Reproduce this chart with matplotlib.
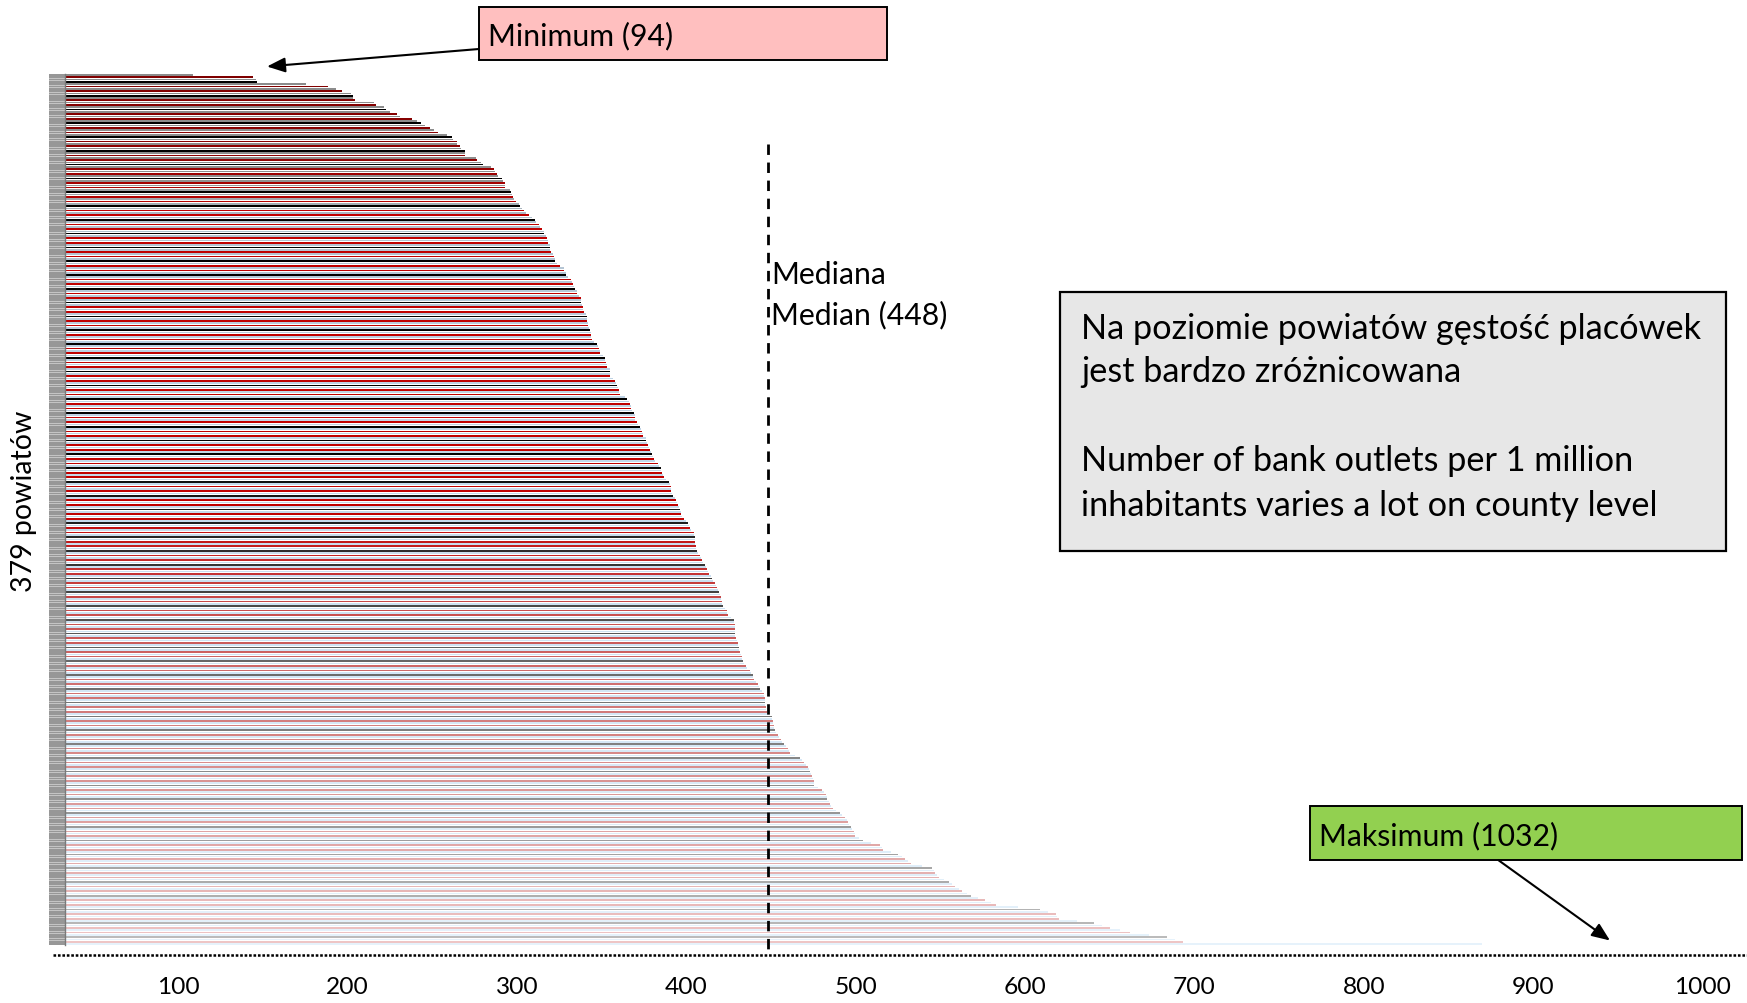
import matplotlib
matplotlib.use("Agg")
import matplotlib.pyplot as plt
import matplotlib.colors as mcolors
from matplotlib.patches import Rectangle, FancyArrowPatch
import numpy as np

# ---------------- data ----------------
values = [
    108.5, 144.2, 146.0, 146.5, 175.5, 188.3, 193.0, 196.8, 202.0, 203.3,
    203.3, 204.3, 215.7, 216.9, 221.6, 222.8, 225.2, 229.3, 231.0, 238.2,
    241.2, 243.5, 245.9, 248.8, 251.2, 253.6, 258.9, 261.9, 262.4, 264.8,
    264.8, 266.6, 267.2, 269.0, 269.5, 269.5, 276.0, 276.6, 279.0, 280.2,
    284.9, 286.7, 287.3, 287.9, 289.0, 291.4, 292.0, 293.2, 293.2, 293.2,
    295.6, 296.5, 297.0, 297.5, 298.0, 299.5, 301.0, 302.0, 303.0, 304.0,
    305.5, 307.0, 309.0, 310.9, 311.5, 313.1, 313.8, 315.0, 316.2, 316.2,
    317.0, 318.0, 318.2, 318.6, 319.2, 319.2, 319.4, 319.8, 321.5, 322.1,
    322.3, 322.7, 323.9, 325.1, 327.5, 328.0, 328.8, 329.2, 330.4, 331.6,
    332.2, 332.8, 333.4, 334.0, 335.7, 335.7, 336.9, 337.5, 337.5, 337.5,
    338.1, 338.7, 338.9, 339.3, 340.5, 341.1, 341.1, 341.6, 342.2, 342.2,
    342.8, 343.4, 343.6, 343.6, 343.8, 344.0, 345.4, 347.0, 347.6, 348.7,
    349.3, 349.3, 350.5, 351.7, 352.1, 352.3, 352.9, 352.9, 354.7, 354.7,
    355.2, 355.2, 356.4, 357.6, 358.2, 358.8, 359.4, 360.0, 360.4, 360.6,
    363.5, 364.7, 365.9, 366.5, 367.1, 367.1, 368.1, 368.8, 369.4, 369.4,
    369.4, 370.6, 371.4, 372.4, 373.0, 373.6, 374.2, 374.2, 376.0, 376.0,
    377.0, 377.2, 377.8, 378.4, 379.0, 379.6, 380.5, 380.7, 381.3, 383.1,
    384.1, 384.9, 385.3, 385.5, 386.1, 386.7, 387.8, 389.6, 390.2, 390.8,
    390.8, 390.8, 391.4, 392.0, 393.2, 393.8, 394.3, 394.9, 395.5, 396.1,
    396.7, 396.7, 397.3, 398.5, 399.7, 400.8, 401.6, 402.0, 403.0, 404.4,
    404.6, 405.0, 405.0, 405.0, 405.4, 405.6, 405.8, 406.2, 407.0, 408.0,
    408.5, 409.1, 410.1, 410.9, 411.5, 412.1, 412.7, 413.3, 414.5, 415.0,
    415.8, 416.8, 417.4, 418.0, 418.6, 419.2, 419.8, 420.4, 420.6, 421.0,
    421.2, 421.5, 422.7, 423.9, 424.1, 424.5, 426.3, 428.1, 428.3, 428.6,
    428.6, 428.6, 428.6, 428.6, 429.0, 429.2, 429.8, 430.4, 430.6, 431.0,
    431.2, 431.6, 432.2, 432.8, 433.0, 433.4, 434.2, 435.1, 436.1, 437.5,
    438.1, 439.3, 439.4, 439.9, 441.0, 442.2, 442.8, 443.4, 444.5, 445.8,
    446.1, 446.4, 446.4, 446.4, 446.7, 447.0, 447.2, 447.4, 449.0, 450.5,
    450.8, 451.1, 451.4, 451.7, 452.0, 452.3, 453.2, 454.1, 455.0, 455.8,
    456.7, 457.6, 458.8, 460.0, 460.6, 461.2, 464.0, 467.1, 468.2, 469.4,
    470.6, 471.8, 472.4, 473.0, 473.6, 474.2, 474.8, 475.4, 475.4, 475.4,
    477.8, 480.1, 481.3, 482.5, 482.8, 483.1, 484.0, 484.8, 485.7, 486.6,
    488.6, 490.7, 492.2, 493.7, 494.6, 495.5, 496.3, 497.2, 498.1, 499.0,
    499.3, 499.6, 502.0, 504.3, 509.3, 514.4, 515.3, 516.2, 520.6, 525.0,
    527.1, 529.2, 531.0, 532.7, 538.9, 545.1, 546.0, 546.9, 548.1, 549.3,
    552.2, 555.2, 557.0, 558.7, 560.8, 562.9, 565.5, 568.2, 572.3, 576.5,
    579.7, 583.0, 596.0, 609.0, 613.5, 618.0, 619.0, 620.0, 630.5, 641.0,
    645.5, 650.0, 656.0, 662.0, 673.0, 684.0, 688.5, 693.0, 870.0,
]
MEDIAN = 448
x_ticks = [100, 200, 300, 400, 500, 600, 700, 800, 900, 1000]
min_label = "Minimum (94)"
max_label = "Maksimum (1032)"
median_lines = ["Mediana", "Median (448)"]
box_lines = ["Na poziomie powiatów gęstość placówek",
             "jest bardzo zróżnicowana",
             "Number of bank outlets per 1 million",
             "inhabitants varies a lot on county level"]
y_label = "379 powiatów"

# ---------------- style ----------------
plt.rcParams['font.family'] = ['Lato', 'DejaVu Sans']
plt.rcParams['lines.scale_dashes'] = False
W, H, DPI = 1747, 1004, 100
fig = plt.figure(figsize=(W / DPI, H / DPI), dpi=DPI)
fig.patch.set_facecolor('white')

def fxp(px):
    return px / W

def fyp(py):
    return 1 - py / H

n = len(values)
AX_L, AX_R, AX_T, AX_B = 65, 1747, 74.85, 946.15
ax = fig.add_axes([fxp(AX_L), fyp(AX_B), (AX_R - AX_L) / W, (AX_B - AX_T) / H])
ax.set_xlim(33.1, 1026.3)
ax.set_ylim(n - 0.5, -0.5)
for s in ax.spines.values():
    s.set_visible(False)
ax.set_yticks([])
ax.patch.set_alpha(0)

def grad(idx, hexes, i):
    rgb = np.array([mcolors.to_rgb(c) for c in hexes])
    return tuple(float(np.interp(i, idx, rgb[:, k])) for k in range(3))

dark_idx = [0, 160, 195, 220, 255, 300, 378]
dark_col = ['#000000', '#000000', '#1e1e1e', '#3c3c3c', '#666666', '#888888', '#bdbdbd']
red_idx = [0, 35, 60, 190, 225, 265, 320, 378]
red_col = ['#7f0000', '#8b0000', '#c00000', '#c00000', '#c64444', '#cf7070', '#dc9e9e', '#eec6c6']
light_idx = [0, 45, 62, 120, 250, 378]
light_col = ['#8c8c8c', '#8e8e8e', '#b0bfcc', '#bcd0e2', '#d0e4f4', '#e6f2fb']

colors = []
for i in range(n):
    m = i % 6
    if m in (1, 5):
        colors.append(grad(red_idx, red_col, i))
    elif m == 3:
        colors.append(grad(dark_idx, dark_col, i))
    else:
        colors.append(grad(light_idx, light_col, i))

ax.barh(np.arange(n), values, height=0.72, color=colors, linewidth=0)

# median dashed line
ax.plot([MEDIAN, MEDIAN], [30, 381.3], color='black', lw=2.0,
        dashes=(7.5, 5.5), clip_on=False, solid_capstyle='butt')

# dotted baseline
ax.plot([26, 1026.3], [382.6, 382.6], color='black', lw=1.8,
        dashes=(1.9, 1.3), clip_on=False)

# left strip
ax_s = fig.add_axes([fxp(49.3), fyp(AX_B), (64.5 - 49.3) / W, (AX_B - AX_T) / H])
ax_s.set_facecolor('#c4c4c4')
ax_s.barh(np.arange(n), 1, height=0.74, color='#979797', linewidth=0)
ax_s.set_xlim(0, 1)
ax_s.set_ylim(n - 0.5, -0.5)
ax_s.set_xticks([])
ax_s.set_yticks([])
for k, s in ax_s.spines.items():
    s.set_visible(k == 'right')
ax_s.spines['right'].set_color('#7a7a7a')
ax_s.spines['right'].set_linewidth(1.0)

# x ticks
ax.set_xticks(x_ticks)
ax.set_xticklabels([str(v) for v in x_ticks])
ax.tick_params(axis='x', length=0, pad=20, labelsize=15, colors='black')

# ---------------- annotations ----------------
def rect(x0, y0, x1, y1, fc, lw=1.4):
    r = Rectangle((fxp(x0), fyp(y1)), (x1 - x0) / W, (y1 - y0) / H,
                  transform=fig.transFigure, facecolor=fc, edgecolor='black',
                  linewidth=lw, zorder=5)
    fig.add_artist(r)

def arrow(x0, y0, x1, y1):
    a = FancyArrowPatch((fxp(x0), fyp(y0)), (fxp(x1), fyp(y1)),
                        transform=fig.transFigure,
                        arrowstyle='-|>,head_length=1.1,head_width=0.45',
                        mutation_scale=10, color='black', lw=1.5, zorder=6,
                        shrinkA=0, shrinkB=0)
    fig.add_artist(a)

rect(479, 7.8, 887, 61.3, '#ffbfbf')
arrow(479, 50, 267, 67.5)
t_min = fig.text(fxp(488), fyp(35.7), min_label, ha='left', va='center', fontsize=18, zorder=7)

rect(1310.3, 806.7, 1741.5, 861.3, '#92d050')
arrow(1498.6, 861.3, 1610, 941.5)
t_max = fig.text(fxp(1319), fyp(835.7), max_label, ha='left', va='center', fontsize=18, zorder=7)

t_med1 = fig.text(fxp(771), fyp(275), median_lines[0], ha='left', va='center', fontsize=18)
t_med2 = fig.text(fxp(771), fyp(315), median_lines[1], ha='left', va='center', fontsize=18)

rect(1059.6, 293, 1725.9, 551.5, '#e7e7e7', lw=1.6)
box_y = [328.7, 372.1, 461.3, 505.8]
t_box = [fig.text(fxp(1081), fyp(yy), s, ha='left', va='center', fontsize=26, zorder=7)
         for s, yy in zip(box_lines, box_y)]

t_yl = fig.text(fxp(24.5), fyp(501), y_label, rotation=90, ha='center', va='center', fontsize=18)

# ---------------- fit text sizes to the reference widths ----------------
fig.canvas.draw()
rend = fig.canvas.get_renderer()

def fit(t, target, use_height=False):
    bb = t.get_window_extent(rend)
    cur = bb.height if use_height else bb.width
    return t.get_fontsize() * target / cur

s_lab = fit(t_min, 184)
for t in (t_min, t_max, t_med1, t_med2):
    t.set_fontsize(s_lab)
s_box = fit(t_box[0], 620)
for t in t_box:
    t.set_fontsize(s_box)
t_yl.set_fontsize(fit(t_yl, 181, use_height=True))

tmp = fig.text(0.5, 0.5, "1000", fontsize=15)
fig.canvas.draw()
s_tick = fit(tmp, 57)
tmp.remove()
ax.tick_params(axis='x', labelsize=s_tick)

fig.canvas.draw()
lab = ax.get_xticklabels()[0]
bb = lab.get_window_extent(rend)
cy = (bb.y0 + bb.y1) / 2
target = H - 988
new_pad = 20 + (cy - target) * 72.0 / DPI
ax.tick_params(axis='x', pad=new_pad)

fig.savefig('out.png', dpi=DPI)
